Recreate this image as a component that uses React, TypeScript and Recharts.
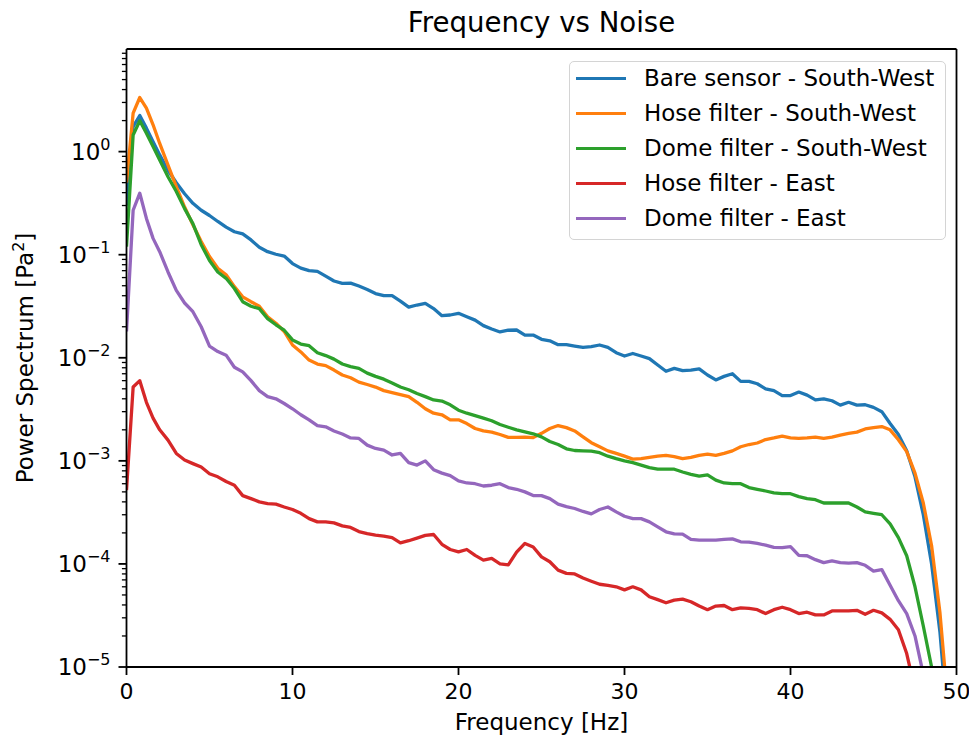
import { LineChart, Line, XAxis, YAxis, Legend } from 'recharts';

const FONT = '"DejaVu Sans", Verdana, sans-serif';

// frequency bins [Hz]
const FREQ = [
  0, 0.4, 0.8, 1.2, 1.6, 2, 2.5, 3, 3.5, 4,
  4.5, 5, 5.5, 6, 6.5, 7, 7.5, 8, 8.5, 9,
  9.5, 10, 10.5, 11, 11.5, 12, 12.5, 13, 13.5, 14,
  14.5, 15, 15.5, 16, 16.5, 17, 17.5, 18, 18.5, 19,
  19.5, 20, 20.5, 21, 21.5, 22, 22.5, 23, 23.5, 24,
  24.5, 25, 25.5, 26, 26.5, 27, 27.5, 28, 28.5, 29,
  29.5, 30, 30.5, 31, 31.5, 32, 32.5, 33, 33.5, 34,
  34.5, 35, 35.5, 36, 36.5, 37, 37.5, 38, 38.5, 39,
  39.5, 40, 40.5, 41, 41.5, 42, 42.5, 43, 43.5, 44,
  44.5, 45, 45.5, 46, 46.5, 47, 47.5, 48, 48.5, 49,
  49.5, 50,
];

// power spectrum [Pa^2]
const BARE_SW = [
  0.3, 1.75, 2.24, 1.69, 1.25, 0.93, 0.66, 0.5, 0.39, 0.315,
  0.27, 0.24, 0.21, 0.185, 0.167, 0.159, 0.139, 0.118, 0.107, 0.101,
  0.097, 0.082, 0.074, 0.07, 0.069, 0.062, 0.0556, 0.0527, 0.053, 0.0497,
  0.046, 0.042, 0.04, 0.04, 0.0355, 0.031, 0.0325, 0.0337, 0.03, 0.0256,
  0.026, 0.027, 0.025, 0.0232, 0.0205, 0.019, 0.0178, 0.0185, 0.0186, 0.0166,
  0.0166, 0.0151, 0.0146, 0.0134, 0.0134, 0.013, 0.0126, 0.0128, 0.0133, 0.0126,
  0.0112, 0.0104, 0.011, 0.0104, 0.0098, 0.0085, 0.0074, 0.0079, 0.0075, 0.0076,
  0.0078, 0.0068, 0.0061, 0.0066, 0.007, 0.0059, 0.0059, 0.0056, 0.005, 0.0048,
  0.0043, 0.0043, 0.00465, 0.00434, 0.0039, 0.004, 0.00383, 0.00347, 0.0037, 0.00347,
  0.0035, 0.0033, 0.003, 0.0023, 0.0018, 0.00125, 0.0007, 0.0003, 0.0001, 2.2e-5,
  2.5e-6, 3e-7,
];

const HOSE_SW = [
  0.5, 2.36, 3.35, 2.64, 1.82, 1.2, 0.74, 0.457, 0.29, 0.195,
  0.134, 0.096, 0.074, 0.064, 0.049, 0.039, 0.035, 0.0316, 0.025, 0.0216,
  0.018, 0.0133, 0.0114, 0.0095, 0.0087, 0.0084, 0.0076, 0.0068, 0.0064, 0.0058,
  0.0055, 0.0052, 0.0048, 0.0046, 0.0044, 0.0042, 0.0037, 0.0032, 0.0029, 0.0028,
  0.0025, 0.0025, 0.0023, 0.00206, 0.00195, 0.0019, 0.0018, 0.00169, 0.00169, 0.0017,
  0.00168, 0.00185, 0.00206, 0.0022, 0.0021, 0.00195, 0.00171, 0.0015, 0.00137, 0.00125,
  0.00118, 0.00111, 0.00104, 0.00105, 0.00108, 0.00111, 0.00113, 0.0011, 0.00105, 0.00108,
  0.00113, 0.00116, 0.00113, 0.00118, 0.00125, 0.00137, 0.00144, 0.00149, 0.00161, 0.00167,
  0.00174, 0.00167, 0.00165, 0.00167, 0.0017, 0.00165, 0.0017, 0.00178, 0.00185, 0.0019,
  0.00204, 0.0021, 0.00215, 0.002, 0.0016, 0.00123, 0.00076, 0.00039, 0.00015, 3.4e-5,
  4e-6, 5e-7,
];

const DOME_SW = [
  0.12, 1.45, 1.99, 1.51, 1.12, 0.83, 0.57, 0.41, 0.28, 0.2,
  0.125, 0.088, 0.068, 0.059, 0.047, 0.035, 0.0316, 0.03, 0.024, 0.0209,
  0.0185, 0.0149, 0.0136, 0.0131, 0.0112, 0.0105, 0.0097, 0.0087, 0.0082, 0.0079,
  0.0071, 0.0066, 0.0062, 0.0057, 0.0052, 0.0049, 0.0045, 0.0042, 0.0039, 0.0038,
  0.0035, 0.0031, 0.0029, 0.00275, 0.0026, 0.00245, 0.00225, 0.00212, 0.002, 0.00191,
  0.00183, 0.00171, 0.00154, 0.00144, 0.00131, 0.00126, 0.00125, 0.00124, 0.0012, 0.00111,
  0.00105, 0.001, 0.00096, 0.00091, 0.00086, 0.00083, 0.00083, 0.00083, 0.00078, 0.00074,
  0.00071, 0.00073, 0.00065, 0.00061, 0.0006, 0.0006, 0.00055, 0.00053, 0.00051, 0.00049,
  0.00048, 0.00048, 0.00045, 0.00043, 0.00042, 0.00039, 0.00039, 0.00039, 0.00039, 0.000357,
  0.00032, 0.00031, 0.0003, 0.000245, 0.00018, 0.00012, 6e-5, 2.5e-5, 1e-5, 2e-6,
  4e-7, 1e-7,
];

const HOSE_E = [
  0.00052, 0.0052, 0.006, 0.0037, 0.0026, 0.002, 0.00159, 0.00118, 0.00102, 0.00094,
  0.00087, 0.00075, 0.0007, 0.00063, 0.00058, 0.00046, 0.00043, 0.0004, 0.000385, 0.00038,
  0.000357, 0.000337, 0.00031, 0.000275, 0.000256, 0.000256, 0.00025, 0.000234, 0.000226, 0.000206,
  0.000197, 0.00019, 0.000186, 0.00018, 0.00016, 0.000168, 0.000178, 0.000189, 0.000193, 0.000155,
  0.000138, 0.000131, 0.000138, 0.000121, 0.000109, 0.000113, 0.0001, 9.8e-5, 0.00013, 0.000158,
  0.000146, 0.000117, 0.000105, 8.7e-5, 8.1e-5, 8e-5, 7.3e-5, 6.8e-5, 6.35e-5, 6.2e-5,
  6e-5, 5.6e-5, 6e-5, 5.6e-5, 4.8e-5, 4.5e-5, 4.2e-5, 4.45e-5, 4.55e-5, 4.3e-5,
  3.9e-5, 3.6e-5, 3.9e-5, 3.95e-5, 3.6e-5, 3.75e-5, 3.7e-5, 3.6e-5, 3.3e-5, 3.6e-5,
  3.8e-5, 3.6e-5, 3.3e-5, 3.4e-5, 3.2e-5, 3.2e-5, 3.5e-5, 3.5e-5, 3.5e-5, 3.55e-5,
  3.25e-5, 3.55e-5, 3.35e-5, 2.9e-5, 2.3e-5, 1.35e-5, 6e-6, 2e-6, 5e-7, 1e-7,
  1e-7, 1e-7,
];

const DOME_E = [
  0.018, 0.27, 0.395, 0.225, 0.144, 0.107, 0.068, 0.045, 0.034, 0.028,
  0.02, 0.013, 0.0115, 0.0106, 0.0081, 0.0073, 0.006, 0.0048, 0.0042, 0.004,
  0.0036, 0.0032, 0.0028, 0.0025, 0.0022, 0.00214, 0.00195, 0.00182, 0.00167, 0.00165,
  0.00142, 0.00132, 0.00127, 0.00114, 0.00118, 0.00096, 0.00091, 0.001, 0.00082, 0.00076,
  0.00072, 0.00064, 0.00061, 0.0006, 0.00057, 0.00058, 0.0006, 0.00055, 0.00053, 0.0005,
  0.00046, 0.00046, 0.00043, 0.00038, 0.00036, 0.000345, 0.000323, 0.000306, 0.000337, 0.000357,
  0.00032, 0.00029, 0.000275, 0.000275, 0.000256, 0.000229, 0.000205, 0.000196, 0.000195, 0.000173,
  0.00017, 0.00017, 0.00017, 0.000173, 0.000175, 0.000164, 0.000163, 0.000158, 0.000152, 0.000145,
  0.000144, 0.000147, 0.000121, 0.00012, 0.00011, 0.000103, 0.000107, 0.000103, 0.000102, 0.000103,
  9.7e-5, 8.5e-5, 8.8e-5, 6.2e-5, 4.4e-5, 3.3e-5, 2e-5, 8.5e-6, 2e-6, 3e-7,
  1e-7, 1e-7,
];

const SERIES = [
  { key: 'bareSW', name: 'Bare sensor - South-West', color: '#1f77b4', values: BARE_SW },
  { key: 'hoseSW', name: 'Hose filter - South-West', color: '#ff7f0e', values: HOSE_SW },
  { key: 'domeSW', name: 'Dome filter - South-West', color: '#2ca02c', values: DOME_SW },
  { key: 'hoseE', name: 'Hose filter - East', color: '#d62728', values: HOSE_E },
  { key: 'domeE', name: 'Dome filter - East', color: '#9467bd', values: DOME_E },
];

const X_TICKS = [0, 10, 20, 30, 40, 50];
const Y_MAJOR = [1e-5, 1e-4, 1e-3, 1e-2, 1e-1, 1];
const Y_MINOR_MULT = [2, 3, 4, 5, 6, 7, 8, 9];
const Y_TICKS = [...Y_MAJOR, ...Y_MAJOR.flatMap((d) => Y_MINOR_MULT.map((m) => m * d))];

const data = FREQ.map((f, i) => {
  const row: Record<string, number> = { f };
  SERIES.forEach((s) => {
    row[s.key] = s.values[i];
  });
  return row;
});

const PLOT_LEFT = 126.5;

function YTick(props: any) {
  const { y, payload } = props;
  const v = payload.value;
  const major = Y_MAJOR.includes(v);
  const len = major ? 8 : 4.6;
  const exp = Math.round(Math.log10(v));
  return (
    <g>
      <line x1={PLOT_LEFT - len} x2={PLOT_LEFT} y1={y} y2={y} stroke="#000" strokeWidth={major ? 1.8 : 1.3} />
      {major && (
        <text x={PLOT_LEFT - 16} y={y + 8} textAnchor="end" fontSize={23} fontFamily={FONT} fill="#000">
          10
          <tspan dy={-10} fontSize={16}>{exp < 0 ? `\u2212${-exp}` : `${exp}`}</tspan>
        </text>
      )}
    </g>
  );
}

const TitleLabel = () => (
  <text x={541.5} y={31.5} textAnchor="middle" fontSize={27.6} fontFamily={FONT} fill="#000">
    Frequency vs Noise
  </text>
);

const XLabel = () => (
  <text x={541.5} y={730} textAnchor="middle" fontSize={23} fontFamily={FONT} fill="#000">
    Frequency [Hz]
  </text>
);

const YLabel = () => (
  <text x={33} y={358} transform="rotate(-90, 33, 358)" textAnchor="middle" fontSize={23} fontFamily={FONT} fill="#000">
    Power Spectrum [Pa
    <tspan dy={-9} fontSize={16}>2</tspan>
    <tspan dy={9}>]</tspan>
  </text>
);

const LegendBox = () => (
  <div
    style={{
      width: 377,
      height: 179,
      boxSizing: 'border-box',
      border: '1.5px solid #d4d4d4',
      borderRadius: 5,
      background: 'rgba(255,255,255,0.8)',
      fontFamily: FONT,
      fontSize: 23,
      color: '#000',
    }}
  >
    {SERIES.map((s, i) => (
      <div key={s.key} style={{ height: 35, display: 'flex', alignItems: 'center', marginTop: i === 0 ? -1 : 0 }}>
        <div style={{ marginLeft: 6, width: 50, height: 3.4, background: s.color }} />
        <span style={{ marginLeft: 18, whiteSpace: 'nowrap', lineHeight: '35px' }}>{s.name}</span>
      </div>
    ))}
  </div>
);

export default function App() {
  return (
    <div style={{ position: 'absolute', left: 0, top: 0, width: 969, height: 740, background: '#fff' }}>
      <LineChart
        width={969}
        height={740}
        data={data}
        margin={{ top: 48, right: 11.5, bottom: 0, left: 0 }}
        style={{ fontFamily: FONT }}
      >
        <XAxis
          dataKey="f"
          type="number"
          domain={[0, 50]}
          ticks={X_TICKS}
          allowDataOverflow
          height={73}
          tickSize={8}
          tickMargin={8}
          tick={{ fontSize: 22, fill: '#000', fontFamily: FONT }}
          tickLine={{ stroke: '#000', strokeWidth: 1.8 }}
          axisLine={{ stroke: '#000', strokeWidth: 1.8 }}
          label={XLabel}
        />
        <XAxis
          xAxisId="top"
          orientation="top"
          dataKey="f"
          type="number"
          domain={[0, 50]}
          height={1}
          tick={false}
          tickLine={false}
          axisLine={{ stroke: '#000', strokeWidth: 1.8 }}
          label={TitleLabel}
        />
        <YAxis
          scale="log"
          type="number"
          domain={[1e-5, 9.9]}
          ticks={Y_TICKS}
          interval={0}
          allowDataOverflow
          width={126.5}
          tickSize={8}
          tickMargin={8}
          tick={YTick}
          tickLine={false}
          axisLine={{ stroke: '#000', strokeWidth: 1.8 }}
          label={YLabel}
        />
        <YAxis
          yAxisId="right"
          orientation="right"
          type="number"
          domain={[0, 1]}
          width={1}
          tick={false}
          tickLine={false}
          axisLine={{ stroke: '#000', strokeWidth: 1.8 }}
        />
        {SERIES.map((s) => (
          <Line
            key={s.key}
            dataKey={s.key}
            name={s.name}
            type="linear"
            stroke={s.color}
            strokeWidth={3.3}
            strokeLinejoin="round"
            dot={false}
            activeDot={false}
            isAnimationActive={false}
          />
        ))}
        <Legend
          layout="vertical"
          align="center"
          verticalAlign="middle"
          content={LegendBox}
          wrapperStyle={{ position: 'absolute', left: 569, top: 61, width: 377, height: 179 }}
        />
      </LineChart>
    </div>
  );
}
